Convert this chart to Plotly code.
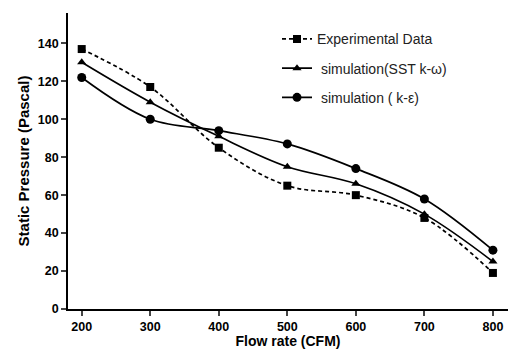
import plotly.graph_objects as go

flow_rate = [200, 300, 400, 500, 600, 700, 800]
experimental = [137, 117, 85, 65, 60, 48, 19]
sst_k_omega = [130, 109, 91, 75, 66, 50, 25]
k_epsilon = [122, 100, 94, 87, 74, 58, 31]
x_ticks = [200, 300, 400, 500, 600, 700, 800]
y_ticks = [0, 20, 40, 60, 80, 100, 120, 140]

fig = go.Figure()
fig.add_trace(go.Scatter(
    x=flow_rate, y=experimental, name="Experimental Data", mode="lines+markers",
    line=dict(color="black", width=1.7, dash="4px,3px", shape="spline"),
    marker=dict(symbol="square", size=8, color="black"), legendgroup="a"))
fig.add_trace(go.Scatter(
    x=flow_rate, y=sst_k_omega, name=" simulation(SST k-\u03c9)", mode="lines+markers",
    line=dict(color="black", width=1.7, shape="spline"),
    marker=dict(symbol="triangle-up", size=8, color="black"), legendgroup="b"))
fig.add_trace(go.Scatter(
    x=flow_rate, y=k_epsilon, name=" simulation ( k-\u03b5)", mode="lines+markers",
    line=dict(color="black", width=1.7, shape="spline"),
    marker=dict(symbol="circle", size=9, color="black"), legendgroup="c"))

fig.update_layout(
    width=508, height=349,
    margin=dict(l=68, r=0, t=13, b=40),
    paper_bgcolor="white", plot_bgcolor="white",
    font=dict(family="Liberation Sans, Arial", color="black"),
    showlegend=True,
    legend=dict(x=0.475, y=0.965, xanchor="left", yanchor="top",
                font=dict(size=14, color="#222"), bgcolor="rgba(0,0,0,0)",
                tracegroupgap=8, itemwidth=30),
    xaxis=dict(range=[180, 822], tickvals=x_ticks, ticks="outside", ticklen=5,
               tickwidth=1.5, showline=True, linecolor="black", linewidth=1.8,
               showgrid=False, zeroline=False,
               tickfont=dict(size=12.5, family="Liberation Sans, Arial", weight="bold"),
               title=dict(text="<b>Flow rate (CFM)</b>", font=dict(size=14), standoff=3)),
    yaxis=dict(range=[0, 156], tickvals=y_ticks, ticks="outside", ticklen=5,
               tickwidth=1.5, showline=True, linecolor="black", linewidth=1.8,
               showgrid=False, zeroline=False,
               tickfont=dict(size=12.5, family="Liberation Sans, Arial", weight="bold"),
               title=dict(text="<b>Static Pressure (Pascal)</b>", font=dict(size=15), standoff=4)),
)

fig.write_html("out.html",
               config={"displayModeBar": False},
               post_script="document.body.style.margin='0';document.body.style.overflow='hidden';")
